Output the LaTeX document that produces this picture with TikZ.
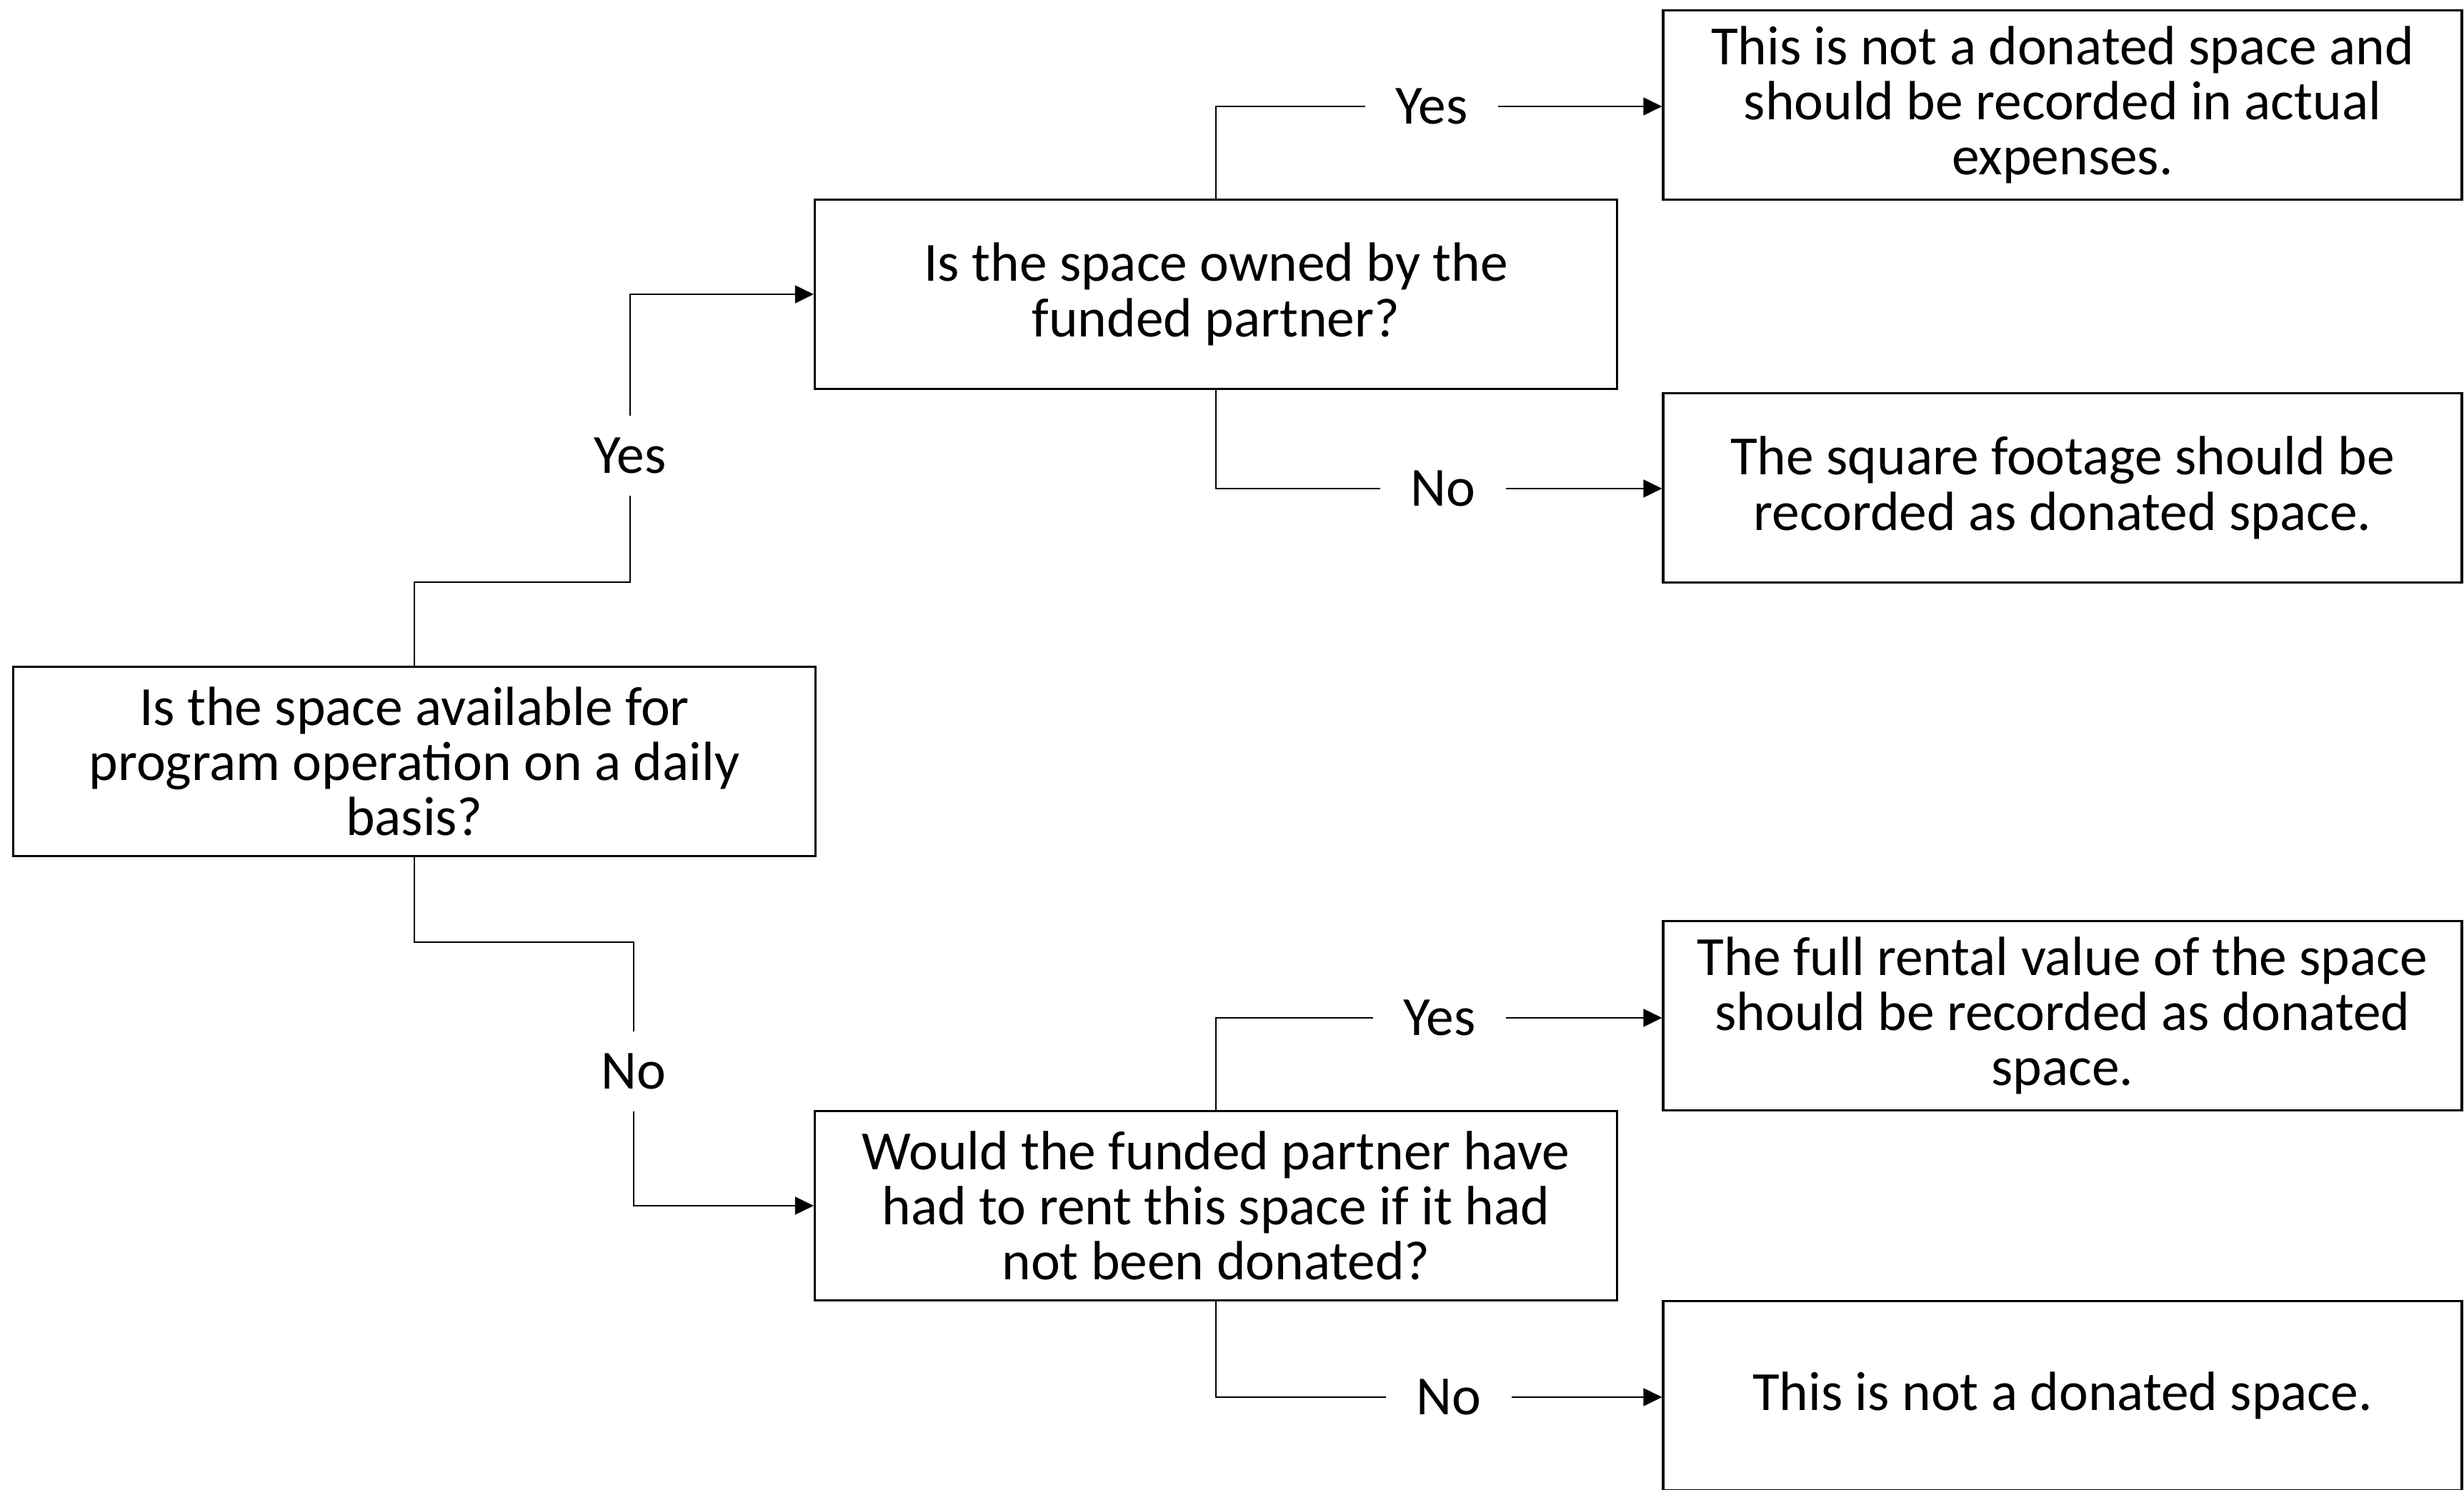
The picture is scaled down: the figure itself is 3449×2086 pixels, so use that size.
\documentclass[tikz,border=0pt]{standalone}
\usepackage{fontspec}
\setmainfont{Carlito}
\usetikzlibrary{arrows.meta}

\begin{document}
\begin{tikzpicture}[x=0.01cm, y=-0.01cm, >={Triangle[length=0.26cm, width=0.25cm]},
        box/.style={draw, line width=1pt, align=center, font=\fontsize{22}{22}\selectfont, minimum width=11.22cm, minimum height=2.65cm, inner sep=0pt},
        ans/.style={font=\fontsize{22}{22}\selectfont, inner xsep=0.42cm, inner ysep=0.3cm},
        conn/.style={line width=0.5pt}]
        \useasboundingbox (0,0) rectangle (3449,2086);
        % questions
        \node[box] (avail) at (580,1066) {Is the space available for\\program operation on a daily\\basis?};
        \node[box] (owned) at (1702,412) {Is the space owned by the\\funded partner?};
        \node[box] (rent) at (1702,1688) {Would the funded partner have\\had to rent this space if it had\\not been donated?};
        % outcomes
        \node[box, minimum width=11.17cm] (actual) at (2887,147) {This is not a donated space and\\should be recorded in actual\\expenses.};
        \node[box, minimum width=11.17cm] (sqft) at (2887,683) {The square footage should be\\recorded as donated space.};
        \node[box, minimum width=11.17cm] (rental) at (2887,1422) {The full rental value of the space\\should be recorded as donated\\space.};
        \node[box, minimum width=11.17cm] (notdon) at (2887,1954) {This is not a donated space.};
        % answers
        \node[ans] (yesA) at (882,638) {Yes};
        \node[ans] (noA) at (887,1500) {No};
        \node[ans] (yesB) at (2004,149) {Yes};
        \node[ans] (noB) at (2020,684) {No};
        \node[ans] (yesC) at (2015,1425) {Yes};
        \node[ans] (noC) at (2028,1956) {No};
        % connectors
        \draw[conn] (avail.north) -- ++(0,-117) -| (yesA.south);
        \draw[conn, ->] (yesA.north) |- (owned.west);
        \draw[conn] (avail.south) -- ++(0,119) -| (noA.north);
        \draw[conn, ->] (noA.south) |- (rent.west);
        \draw[conn] (owned.north) |- (yesB.west);
        \draw[conn, ->] (yesB.east) -- (yesB.east -| actual.west);
        \draw[conn] (owned.south) |- (noB.west);
        \draw[conn, ->] (noB.east) -- (noB.east -| sqft.west);
        \draw[conn] (rent.north) |- (yesC.west);
        \draw[conn, ->] (yesC.east) -- (yesC.east -| rental.west);
        \draw[conn] (rent.south) |- (noC.west);
        \draw[conn, ->] (noC.east) -- (noC.east -| notdon.west);
    \end{tikzpicture}
\end{document}
